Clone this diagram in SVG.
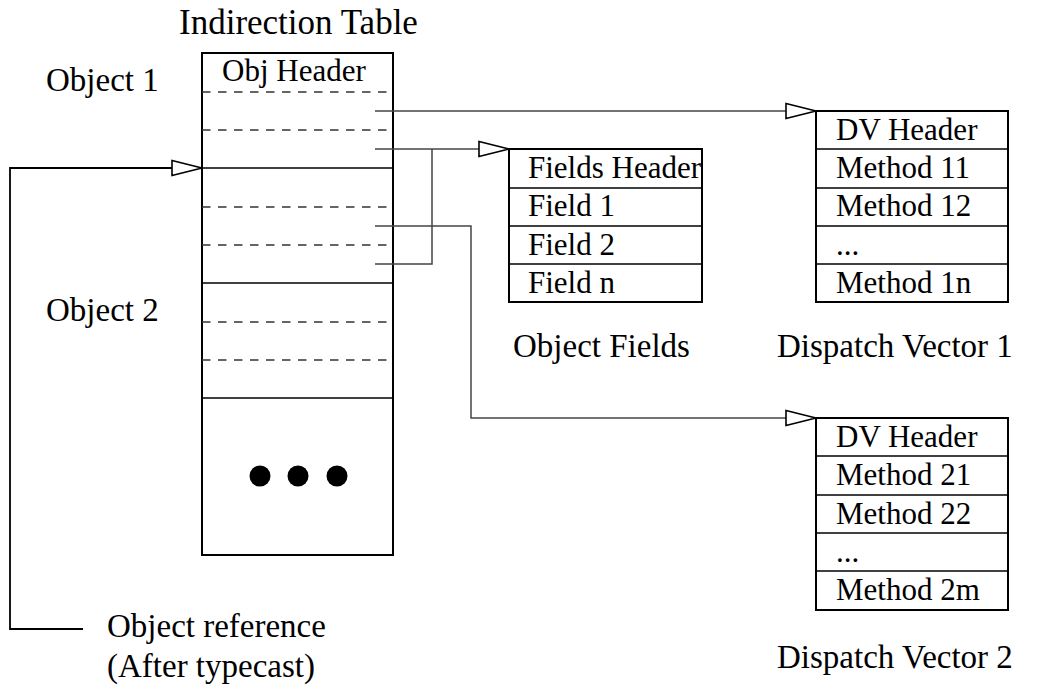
<svg xmlns="http://www.w3.org/2000/svg" width="1044" height="696" viewBox="0 0 1044 696">
  <style>
    text { font-family: "Liberation Serif", "Times New Roman", serif; fill: #000; }
    .label { font-size: 33px; }
    .title { font-size: 35px; }
    .cell { font-size: 31px; }
    .box { fill: #fff; stroke: #000; stroke-width: 2; }
    .sep { stroke: #000; stroke-width: 1.6; }
    .dash { stroke: #333; stroke-width: 1.5; stroke-dasharray: 8.5 7.5; }
    .wire { fill: none; stroke: #444; stroke-width: 1.5; }
    .wire-dark { fill: none; stroke: #000; stroke-width: 1.8; }
  </style>
  <defs>
    <marker id="openArrow" viewBox="0 0 32 18" refX="31" refY="9" markerWidth="32" markerHeight="18" markerUnits="userSpaceOnUse" orient="auto">
      <path d="M1,1.5 L31,9 L1,16.5 Z" fill="#fff" stroke="#000" stroke-width="1.6"/>
    </marker>
  </defs>
  <rect width="1044" height="696" fill="#fff"/>

  <!-- Indirection table -->
  <g id="indirection-table">
    <text class="title" x="179" y="34">Indirection Table</text>
    <rect class="box" x="202" y="53" width="191" height="502"/>
    <text class="cell" x="222" y="81">Obj Header</text>
    <line class="dash" x1="202" y1="92" x2="393" y2="92"/>
    <line class="dash" x1="202" y1="130" x2="393" y2="130"/>
    <line class="sep" x1="202" y1="168" x2="393" y2="168"/>
    <line class="dash" x1="202" y1="207" x2="393" y2="207"/>
    <line class="dash" x1="202" y1="245" x2="393" y2="245"/>
    <line class="sep" x1="202" y1="283" x2="393" y2="283"/>
    <line class="dash" x1="202" y1="322" x2="393" y2="322"/>
    <line class="dash" x1="202" y1="360" x2="393" y2="360"/>
    <line class="sep" x1="202" y1="398" x2="393" y2="398"/>
    <circle cx="260" cy="476" r="10.5"/>
    <circle cx="298" cy="476" r="10.5"/>
    <circle cx="337" cy="476" r="10.5"/>
  </g>

  <g id="object-labels">
    <text class="label" x="46" y="91">Object 1</text>
    <text class="label" x="46" y="321">Object 2</text>
  </g>

  <!-- Object fields -->
  <g id="object-fields">
    <rect class="box" x="509" y="149" width="193" height="153"/>
    <line class="sep" x1="509" y1="188" x2="702" y2="188"/>
    <line class="sep" x1="509" y1="226" x2="702" y2="226"/>
    <line class="sep" x1="509" y1="264" x2="702" y2="264"/>
    <text class="cell" x="528" y="178">Fields Header</text>
    <text class="cell" x="528" y="216">Field 1</text>
    <text class="cell" x="528" y="255">Field 2</text>
    <text class="cell" x="528" y="293">Field n</text>
    <text class="label" x="513" y="357">Object Fields</text>
  </g>

  <!-- Dispatch vector 1 -->
  <g id="dispatch-vector-1">
    <rect class="box" x="816" y="111" width="192" height="191"/>
    <line class="sep" x1="816" y1="149" x2="1008" y2="149"/>
    <line class="sep" x1="816" y1="188" x2="1008" y2="188"/>
    <line class="sep" x1="816" y1="226" x2="1008" y2="226"/>
    <line class="sep" x1="816" y1="264" x2="1008" y2="264"/>
    <text class="cell" x="836" y="140">DV Header</text>
    <text class="cell" x="836" y="178">Method 11</text>
    <text class="cell" x="836" y="216">Method 12</text>
    <text class="cell" x="836" y="255">...</text>
    <text class="cell" x="836" y="293">Method 1n</text>
    <text class="label" x="777" y="357">Dispatch Vector 1</text>
  </g>

  <!-- Dispatch vector 2 -->
  <g id="dispatch-vector-2">
    <rect class="box" x="816" y="418" width="192" height="192"/>
    <line class="sep" x1="816" y1="456" x2="1008" y2="456"/>
    <line class="sep" x1="816" y1="495" x2="1008" y2="495"/>
    <line class="sep" x1="816" y1="533" x2="1008" y2="533"/>
    <line class="sep" x1="816" y1="571" x2="1008" y2="571"/>
    <text class="cell" x="836" y="447">DV Header</text>
    <text class="cell" x="836" y="485">Method 21</text>
    <text class="cell" x="836" y="524">Method 22</text>
    <text class="cell" x="836" y="562">...</text>
    <text class="cell" x="836" y="600">Method 2m</text>
    <text class="label" x="777" y="668">Dispatch Vector 2</text>
  </g>

  <!-- Object reference label -->
  <g id="object-reference">
    <text class="label" x="107" y="637">Object reference</text>
    <text class="label" x="107" y="677">(After typecast)</text>
  </g>

  <!-- Connectors -->
  <g id="connectors">
    <path class="wire-dark" d="M83,629 H10 V168 H202" marker-end="url(#openArrow)"/>
    <path class="wire" d="M375,111 H816" marker-end="url(#openArrow)"/>
    <path class="wire" d="M375,149 H509" marker-end="url(#openArrow)"/>
    <path class="wire" d="M375,264 H432 V149"/>
    <path class="wire" d="M375,226 H471 V418 H816" marker-end="url(#openArrow)"/>
  </g>
</svg>
